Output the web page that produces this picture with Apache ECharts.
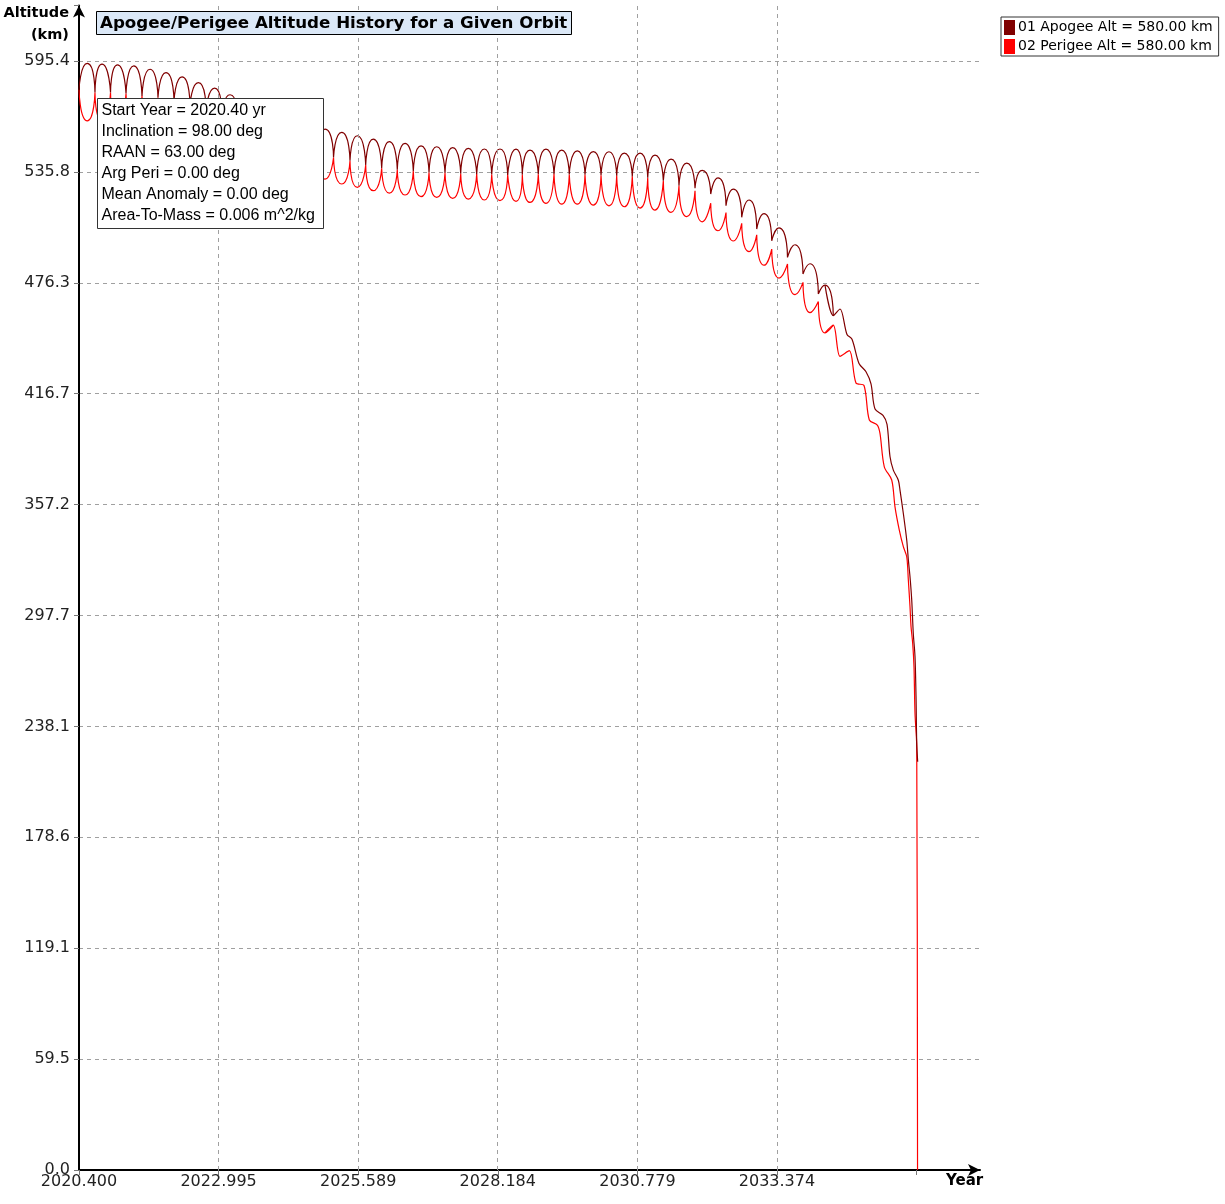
<!DOCTYPE html>
<html>
<head>
<meta charset="utf-8">
<title>Apogee/Perigee Altitude History</title>
<script src="https://cdn.jsdelivr.net/npm/echarts@6/dist/echarts.min.js"></script>
<style>
  html, body { margin: 0; padding: 0; background: #fff; }
  #chart { width: 1225px; height: 1204px; }
</style>
</head>
<body>
<div id="chart"></div>
<script>
// tick values
const xTicks = [2020.4, 2022.99472, 2025.58944, 2028.18416, 2030.77888, 2033.3736];
const yStep = 59.5353;

// oscillating part: nodes alternate crossing / extreme
const oscYears = [
  2020.400, 2020.554, 2020.697, 2020.828, 2020.986, 2021.116, 2021.274, 2021.419, 2021.571, 2021.720,
  2021.868, 2022.017, 2022.166, 2022.315, 2022.463, 2022.618, 2022.761, 2022.919, 2023.058, 2023.207,
  2023.355, 2023.504, 2023.653, 2023.802, 2023.950, 2024.099, 2024.248, 2024.396, 2024.545, 2024.684,
  2024.824, 2024.973, 2025.131, 2025.283, 2025.437, 2025.573, 2025.729, 2025.870, 2026.026, 2026.168,
  2026.316, 2026.460, 2026.614, 2026.757, 2026.906, 2027.049, 2027.203, 2027.346, 2027.495, 2027.636,
  2027.792, 2027.934, 2028.071, 2028.225, 2028.368, 2028.523, 2028.640, 2028.783, 2028.937, 2029.080,
  2029.229, 2029.372, 2029.513, 2029.662, 2029.805, 2029.960, 2030.103, 2030.251, 2030.394, 2030.536,
  2030.684, 2030.828, 2030.971, 2031.106, 2031.261, 2031.404, 2031.552, 2031.696, 2031.850, 2031.984,
  2032.142, 2032.277, 2032.426, 2032.562, 2032.718, 2032.854, 2032.997, 2033.132, 2033.276, 2033.411,
  2033.569, 2033.709, 2033.857, 2033.987, 2034.142, 2034.266, 2034.420, 2034.545
];
const apogeeOsc = [
  580.0, 594.0, 578.4, 593.7, 578.4, 593.2, 577.9, 592.7, 576.6, 590.9,
  575.7, 589.1, 574.0, 586.8, 572.0, 583.7, 569.5, 580.8, 567.0, 577.2,
  564.0, 574.2, 561.0, 571.2, 558.0, 568.2, 554.5, 565.2, 551.0, 562.0,
  547.4, 558.8, 543.5, 557.0, 541.8, 555.2, 539.5, 553.4, 537.7, 552.0,
  537.0, 551.1, 536.2, 549.8, 535.5, 549.3, 535.2, 548.8, 534.8, 548.4,
  534.6, 548.1, 534.4, 548.1, 534.2, 548.0, 534.3, 547.5, 534.5, 548.0,
  534.5, 547.5, 534.4, 547.1, 534.3, 546.7, 534.0, 546.6, 533.8, 545.9,
  533.4, 545.9, 532.7, 544.8, 531.0, 542.7, 528.4, 540.5, 527.0, 536.6,
  523.9, 532.6, 517.6, 526.6, 511.4, 520.7, 505.1, 513.4, 498.8, 505.7,
  489.9, 496.7, 481.0, 486.5, 470.3, 475.0, 458.6, 462.2
];
const perigeeOsc = [
  580.0, 563.2, 578.4, 563.1, 578.4, 563.1, 577.9, 561.8, 576.6, 561.3,
  575.7, 560.5, 574.0, 559.2, 572.0, 557.9, 569.5, 555.6, 567.0, 553.8,
  564.0, 550.8, 561.0, 547.8, 558.0, 544.4, 554.5, 540.4, 551.0, 536.4,
  547.4, 531.9, 543.5, 529.3, 541.8, 527.5, 539.5, 525.7, 537.7, 524.4,
  537.0, 523.4, 536.2, 522.5, 535.5, 522.1, 535.2, 521.6, 534.8, 521.2,
  534.6, 520.7, 534.4, 520.4, 534.2, 520.0, 534.3, 519.4, 534.5, 518.9,
  534.5, 518.5, 534.4, 518.5, 534.3, 518.0, 534.0, 517.6, 533.8, 517.1,
  533.4, 516.4, 532.7, 515.3, 531.0, 514.1, 528.4, 511.8, 525.7, 509.0,
  519.0, 504.2, 514.0, 498.7, 508.2, 493.0, 502.0, 485.7, 494.4, 478.8,
  486.4, 469.9, 476.5, 460.2, 466.2, 449.4, 453.5, 436.8
];

// final decay
const apogeeTailYears = [
  2034.675, 2034.768, 2034.898, 2035.028, 2035.121, 2035.196, 2035.344, 2035.419, 2035.474, 2035.536,
  2035.629, 2035.660, 2035.722, 2035.785, 2035.815, 2035.846, 2035.878, 2035.907, 2035.939, 2035.958,
  2035.971, 2035.989
];
const apogeeTail = [
  448.5, 446.0, 433.0, 428.5, 422.0, 408.5, 405.1, 400.3, 383.0, 375.7,
  370.3, 365.0, 352.4, 338.2, 327.5, 318.5, 306.0, 288.0, 275.5, 254.0,
  229.0, 219.2
];
const perigeeTailYears = [
  2034.718, 2034.842, 2034.991, 2035.090, 2035.238, 2035.288, 2035.368, 2035.506, 2035.567, 2035.647,
  2035.722, 2035.785, 2035.815, 2035.846, 2035.865, 2035.896, 2035.920, 2035.939, 2035.971, 2035.986
];
const perigeeTail = [
  439.8, 422.5, 421.1, 402.6, 399.9, 395.4, 377.5, 370.4, 356.0, 343.5,
  334.6, 329.2, 316.7, 302.4, 291.7, 282.7, 270.2, 245.0, 227.2, 0
];

const apogeeName = '01 Apogee Alt = 580.00 km';
const perigeeName = '02 Perigee Alt = 580.00 km';
const infoLines = [
  'Start Year = 2020.40 yr',
  'Inclination = 98.00 deg',
  'RAAN = 63.00 deg',
  'Arg Peri = 0.00 deg',
  'Mean Anomaly = 0.00 deg',
  'Area-To-Mass = 0.006 m^2/kg'
];

// each arc runs crossing -> extreme -> crossing, so crossings stay sharp
function buildArcs(years, vals) {
  const out = [];
  for (let i = 0; i + 2 < years.length; i += 2) {
    out.push([years[i], vals[i]], [years[i + 1], vals[i + 1]], [years[i + 2], vals[i + 2]], [years[i + 2], null]);
  }
  return out;
}
function buildTail(years, vals, tailYears, tail) {
  const n = years.length;
  const out = [[years[n - 3], vals[n - 3]], [years[n - 2], vals[n - 2]], [years[n - 1], vals[n - 1]]];
  tailYears.forEach((y, i) => out.push([y, tail[i]]));
  return out;
}

const wide = 'DejaVu Sans, Verdana, sans-serif';
const arial = 'Liberation Sans, Arial, sans-serif';
const gridDash = { color: '#a0a0a0', width: 1, type: [4, 4] };

const chart = echarts.init(document.getElementById('chart'), null, { renderer: 'canvas' });
const option = {
  animation: false,
  backgroundColor: '#fff',
  textStyle: { fontFamily: wide },
  title: {
    text: 'Apogee/Perigee Altitude History for a Given Orbit',
    left: 96, top: 11,
    padding: [4, 4, 3, 4],
    backgroundColor: '#dbe8f7',
    borderColor: '#000', borderWidth: 1,
    textStyle: { fontFamily: wide, fontSize: 16.7, fontWeight: 'bold', color: '#000' }
  },
  legend: {
    data: [apogeeName, perigeeName],
    orient: 'vertical',
    left: 1001, top: 17,
    padding: [3, 6, 2, 3],
    itemGap: 4,
    itemWidth: 11, itemHeight: 15,
    icon: 'rect',
    selectedMode: false,
    backgroundColor: '#fff',
    borderColor: '#333', borderWidth: 1,
    textStyle: { fontFamily: wide, fontSize: 14, color: '#000', padding: [0, 0, 0, -2] }
  },
  grid: { left: 79, right: 245, top: 5.5, bottom: 34, containLabel: false },
  xAxis: {
    type: 'value',
    min: xTicks[0], max: 2037.147, interval: xTicks[1] - xTicks[0],
    axisLine: { lineStyle: { color: '#000', width: 2 }, symbol: ['none', 'arrow'], symbolSize: [9, 12] },
    axisTick: { show: true, length: 5, lineStyle: { color: '#777' } },
    axisLabel: {
      margin: 4, fontSize: 16, color: '#222', fontFamily: wide,
      showMaxLabel: false,
      formatter: v => (v > xTicks[xTicks.length - 1] + 0.01 ? '' : v.toFixed(3))
    },
    splitLine: { show: false }
  },
  yAxis: {
    type: 'value',
    min: 0, max: yStep * 10.5, interval: yStep,
    axisLine: { lineStyle: { color: '#000', width: 2 }, symbol: ['none', 'arrow'], symbolSize: [9, 12] },
    axisTick: { show: true, length: 5, lineStyle: { color: '#777' } },
    axisLabel: {
      margin: 9, fontSize: 16, color: '#222', fontFamily: wide,
      formatter: v => (v > yStep * 10 + 1 ? '' : v.toFixed(1))
    },
    splitLine: { show: true, showMinLine: false, showMaxLine: false, lineStyle: gridDash }
  },
  graphic: [
    { type: 'text', right: 1225 - 69, top: 6, style: { text: 'Altitude', font: 'bold 14.5px ' + wide, fill: '#000' } },
    { type: 'text', right: 1225 - 69, top: 28, style: { text: '(km)', font: 'bold 14.5px ' + wide, fill: '#000' } },
    { type: 'text', left: 946, top: 1174, style: { text: 'Year', font: 'bold 15px ' + wide, fill: '#000' } },
    {
      type: 'group', left: 97, top: 98, z: 100,
      children: [
        { type: 'rect', z: 100, shape: { x: 0, y: 0, width: 226, height: 130 }, style: { fill: '#fff', stroke: '#333', lineWidth: 1 } },
        { type: 'text', z: 101, x: 4, y: 2, style: { text: infoLines.join('\n'), font: '16px ' + arial, lineHeight: 21, fill: '#000' } }
      ]
    }
  ],
  series: [
    {
      type: 'line', data: [], silent: true,
      markLine: {
        silent: true, symbol: ['none', 'none'], label: { show: false },
        lineStyle: gridDash,
        data: xTicks.slice(1).map(v => ({ xAxis: v }))
      }
    },
    {
      name: perigeeName, type: 'line', data: buildArcs(oscYears, perigeeOsc),
      smooth: 0.9, showSymbol: false, connectNulls: false,
      color: '#ff0000', lineStyle: { width: 1.2, color: '#ff0000' }
    },
    {
      name: perigeeName, type: 'line', data: buildTail(oscYears, perigeeOsc, perigeeTailYears, perigeeTail),
      smooth: 0.3, showSymbol: false,
      color: '#ff0000', lineStyle: { width: 1.2, color: '#ff0000' }
    },
    {
      name: apogeeName, type: 'line', data: buildArcs(oscYears, apogeeOsc),
      smooth: 0.9, showSymbol: false, connectNulls: false,
      color: '#800000', lineStyle: { width: 1.2, color: '#800000' }
    },
    {
      name: apogeeName, type: 'line', data: buildTail(oscYears, apogeeOsc, apogeeTailYears, apogeeTail),
      smooth: 0.3, showSymbol: false,
      color: '#800000', lineStyle: { width: 1.2, color: '#800000' }
    }
  ]
};
chart.setOption(option);
</script>
</body>
</html>
